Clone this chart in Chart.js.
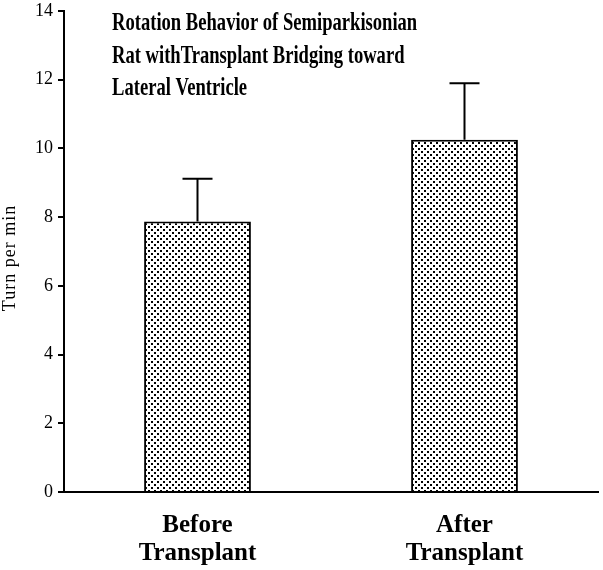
<!DOCTYPE html>
<html>
<head>
<meta charset="utf-8">
<script src="https://cdn.jsdelivr.net/npm/chart.js@4/dist/chart.umd.min.js"></script>
<style>
  html, body { margin: 0; padding: 0; background: #fff; }
  #wrap { width: 603px; height: 570px; }
</style>
</head>
<body>
<div id="wrap"><canvas id="chart" width="603" height="570"></canvas></div>
<script>
// data
var labels = [["Before", "Transplant"], ["After", "Transplant"]];
var turns = [7.87, 10.25];
var errs = [1.25, 1.65];
var yTicks = [0, 2, 4, 6, 8, 10, 12, 14];
var yTitle = "Turn per min";
var titleLines = ["Rotation Behavior of Semiparkisonian", "Rat withTransplant Bridging toward", "Lateral Ventricle"];

function dotPattern() {
    var c = document.createElement("canvas");
    c.width = 6; c.height = 6;
    var g = c.getContext("2d");
    g.fillStyle = "#fff";
    g.fillRect(0, 0, 6, 6);
    g.fillStyle = "#000";
    g.fillRect(1, 1, 2, 2);
    g.fillRect(4, 4, 2, 2);
    return document.getElementById("chart").getContext("2d").createPattern(c, "repeat");
}

var errorBars = {
    id: "errorBars",
    afterDatasetsDraw: function (chart) {
        var ctx = chart.ctx;
        var x = chart.scales.x, y = chart.scales.y;
        ctx.save();
        ctx.strokeStyle = "#000";
        ctx.lineWidth = 2;
        for (var i = 0; i < turns.length; i++) {
            var cx = x.getPixelForValue(i);
            var top = y.getPixelForValue(turns[i] + errs[i]);
            var base = y.getPixelForValue(turns[i]);
            ctx.beginPath();
            ctx.moveTo(cx, base);
            ctx.lineTo(cx, top);
            ctx.moveTo(cx - 15, top);
            ctx.lineTo(cx + 15, top);
            ctx.stroke();
        }
        ctx.restore();
    }
};

// heading inside the plot and the y title, drawn as text
var texts = {
    id: "texts",
    afterDraw: function (chart) {
        var ctx = chart.ctx;
        ctx.save();
        ctx.fillStyle = "#000";
        ctx.font = "bold 26px 'Liberation Serif'";
        ctx.textBaseline = "alphabetic";
        var base = [30, 62.5, 95];
        for (var i = 0; i < titleLines.length; i++) {
            ctx.save();
            ctx.translate(112, base[i]);
            ctx.scale(0.715, 1);
            ctx.fillText(titleLines[i], 0, 0);
            ctx.restore();
        }
        ctx.font = "18px 'Liberation Serif'";
        ctx.textAlign = "center";
        ctx.textBaseline = "middle";
        ctx.letterSpacing = "1px";
        ctx.translate(10, 258);
        ctx.rotate(-Math.PI / 2);
        ctx.fillText(yTitle, 0, 0);
        ctx.restore();
    }
};

var chart = new Chart(document.getElementById("chart"), {
    type: "bar",
    data: {
        labels: labels,
        datasets: [{
            data: turns,
            backgroundColor: dotPattern(),
            borderColor: "#000",
            borderWidth: 2,
            borderSkipped: "bottom",
            barPercentage: 0.4,
            categoryPercentage: 1.0
        }]
    },
    options: {
        responsive: false,
        animation: false,
        layout: { padding: { top: 0, right: 5, left: 0, bottom: 0 } },
        plugins: { legend: { display: false }, tooltip: { enabled: false } },
        scales: {
            x: {
                grid: { display: false },
                border: { display: true, color: "#000", width: 2 },
                ticks: {
                    color: "#000",
                    padding: 12,
                    font: { family: "'Liberation Serif'", size: 25, weight: "bold", lineHeight: 1.1 }
                },
                afterFit: function (s) { s.height = 78; }
            },
            y: {
                min: 0, max: 14,
                afterBuildTicks: function (s) { s.ticks = yTicks.map(function (v) { return { value: v }; }); },
                grid: { drawOnChartArea: false, drawTicks: true, tickLength: 6, color: "#000", lineWidth: 2 },
                border: { display: true, color: "#000", width: 2 },
                ticks: {
                    color: "#000",
                    padding: 5,
                    font: { family: "'Liberation Serif'", size: 18 }
                },
                afterFit: function (s) { s.width = 64; s.paddingTop = 11; s.paddingBottom = 0; }
            }
        }
    },
    plugins: [errorBars, texts]
});
</script>
</body>
</html>
